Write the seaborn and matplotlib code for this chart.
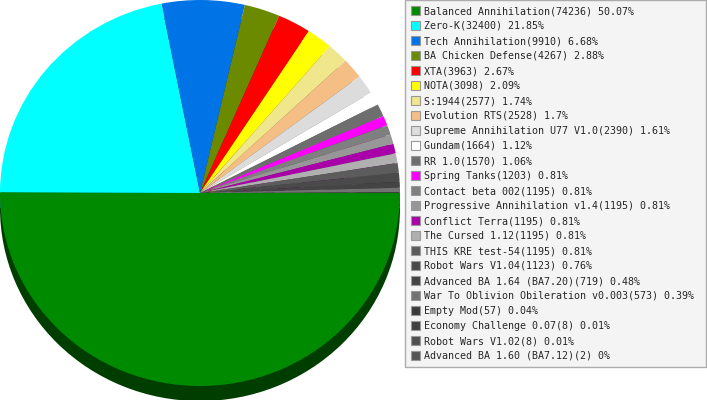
import numpy as np
import seaborn as sns
import matplotlib.pyplot as plt

sns.set_style('white')
plt.rcParams['font.family'] = ['DejaVu Sans Mono', 'DejaVu Sans']

# mod names, game counts and the shares printed in the legend
mods = ['Balanced Annihilation', 'Zero-K', 'Tech Annihilation', 'BA Chicken Defense',
        'XTA', 'NOTA', 'S:1944', 'Evolution RTS', 'Supreme Annihilation U77 V1.0',
        'Gundam', 'RR 1.0', 'Spring Tanks', 'Contact beta 002',
        'Progressive Annihilation v1.4', 'Conflict Terra', 'The Cursed 1.12',
        'THIS KRE test-54', 'Robot Wars V1.04', 'Advanced BA 1.64 (BA7.20)',
        'War To Oblivion Obileration v0.003', 'Empty Mod', 'Economy Challenge 0.07',
        'Robot Wars V1.02', 'Advanced BA 1.60 (BA7.12)']
games = [74236, 32400, 9910, 4267, 3963, 3098, 2577, 2528, 2390, 1664, 1570, 1203,
         1195, 1195, 1195, 1195, 1195, 1123, 719, 573, 57, 8, 8, 2]
shares = ['50.07', '21.85', '6.68', '2.88', '2.67', '2.09', '1.74', '1.7', '1.61',
          '1.12', '1.06', '0.81', '0.81', '0.81', '0.81', '0.81', '0.81', '0.76',
          '0.48', '0.39', '0.04', '0.01', '0.01', '0']
colors = ['#008a00', '#00ffff', '#0073e6', '#6b8a00', '#ff0000', '#ffff00', '#f0e68c',
          '#f5be85', '#dcdcdc', '#ffffff', '#6e6e6e', '#ff00ff', '#7f7f7f', '#979797',
          '#a900a9', '#b0b0b0', '#5c5c5c', '#4a4a4a', '#444444', '#737373', '#3a3a3a',
          '#404040', '#505050', '#555555']

fig = plt.figure(figsize=(7.07, 4), dpi=100)
ax = fig.add_axes([0, 0, 400 / 707, 1])

# darker copy underneath gives the 3d rim
dark = [tuple(c * 0.45 for c in plt.matplotlib.colors.to_rgb(col)) for col in colors]
ax.pie(games, colors=dark, startangle=0, counterclock=False, center=(0, -0.078),
       wedgeprops={'linewidth': 0})
ax.pie(games, colors=colors, startangle=0, counterclock=False,
       wedgeprops={'linewidth': 0})
ax.set_aspect('auto')
ax.set_xlim(-1, 1)
ax.set_ylim(-1.0725, 1.0)
ax.axis('off')

labels = [f'{m}({g}) {s}%' for m, g, s in zip(mods, games, shares)]
handles = [plt.matplotlib.patches.Patch(facecolor=c, edgecolor='#999999', linewidth=0.8)
           for c in colors]
leg = fig.legend(handles, labels, loc='upper left',
                 bbox_to_anchor=(405 / 707, 1.0, 301 / 707, 0.0), mode='expand',
                 fontsize=7.2, frameon=True, fancybox=False, borderaxespad=0,
                 handlelength=0.9, handleheight=0.9, handletextpad=0.35,
                 labelspacing=0.5, borderpad=0.6)
leg.get_frame().set_facecolor('#f2f2f2')
leg.get_frame().set_edgecolor('#999999')
leg.get_frame().set_linewidth(1)

fig.savefig('out.png', dpi=100)
